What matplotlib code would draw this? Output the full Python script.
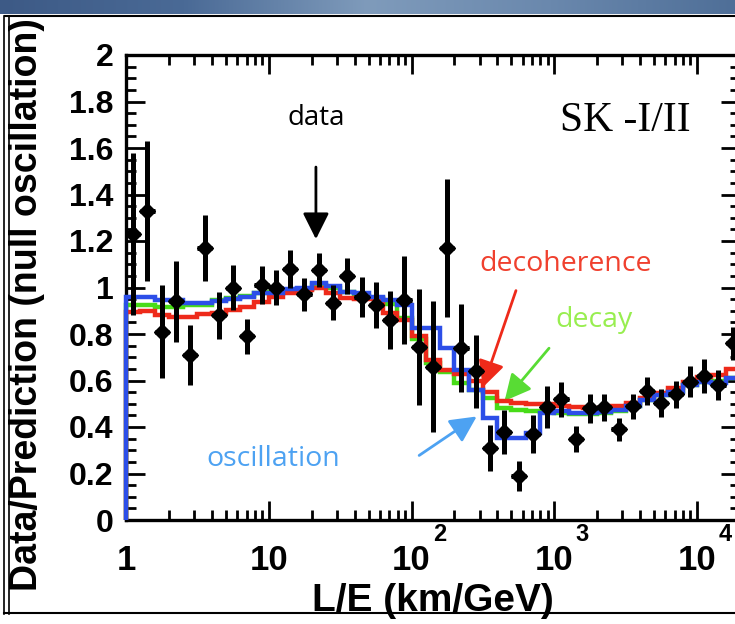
import numpy as np
import matplotlib
matplotlib.use('Agg')
import matplotlib.pyplot as plt
from matplotlib.colors import LinearSegmentedColormap
from matplotlib.ticker import MultipleLocator, LogLocator, FixedLocator, FixedFormatter, NullFormatter

# log10(L/E) bin edges of the histogram
log_edges = [0.0, 0.1, 0.2, 0.3, 0.4, 0.5, 0.6, 0.7, 0.8, 0.9, 1.0,
             1.1, 1.2, 1.3, 1.4, 1.5, 1.6, 1.7, 1.8, 1.9, 2.0,
             2.1, 2.2, 2.3, 2.4, 2.5, 2.6, 2.7, 2.8, 2.9, 3.0,
             3.1, 3.2, 3.3, 3.4, 3.5, 3.6, 3.7, 3.8, 3.9, 4.0,
             4.1, 4.2, 4.3]

# data / null-oscillation prediction with errors
data_ratio = [1.23, 1.33, 0.81, 0.94, 0.71, 1.17, 0.88, 1.00, 0.79, 1.01,
              1.00, 1.08, 0.97, 1.075, 0.935, 1.05, 0.96, 0.925, 0.86, 0.945,
              0.745, 0.66, 1.17, 0.74, 0.64, 0.31, 0.38, 0.19, 0.37, 0.485,
              0.52, 0.35, 0.48, 0.485, 0.39, 0.49, 0.555, 0.505, 0.54, 0.595,
              0.62, 0.58, 0.76]
data_err = [0.35, 0.30, 0.20, 0.175, 0.13, 0.14, 0.10, 0.097, 0.075, 0.083,
            0.075, 0.08, 0.07, 0.073, 0.074, 0.077, 0.086, 0.10, 0.125, 0.19,
            0.25, 0.28, 0.295, 0.19, 0.157, 0.10, 0.095, 0.065, 0.08, 0.09,
            0.075, 0.056, 0.064, 0.059, 0.05, 0.054, 0.06, 0.06, 0.06, 0.066,
            0.072, 0.065, 0.072]

# model predictions per bin
oscillation = [0.96, 0.96, 0.945, 0.945, 0.935, 0.935, 0.94, 0.95, 0.96, 0.975,
               0.975, 0.995, 1.0, 1.02, 1.005, 0.982, 0.975, 0.96, 0.946, 0.925,
               0.825, 0.825, 0.738, 0.645, 0.56, 0.437, 0.351, 0.351, 0.373, 0.459,
               0.47, 0.46, 0.462, 0.466, 0.475, 0.49, 0.516, 0.538, 0.552, 0.58,
               0.595, 0.59, 0.609]
decoherence = [0.895, 0.90, 0.88, 0.875, 0.875, 0.885, 0.889, 0.903, 0.917, 0.939,
               0.961, 0.975, 0.989, 1.0, 0.975, 0.953, 0.95, 0.95, 0.889, 0.86,
               0.79, 0.69, 0.645, 0.63, 0.60, 0.55, 0.51, 0.505, 0.50, 0.50,
               0.49, 0.485, 0.48, 0.48, 0.49, 0.505, 0.525, 0.545, 0.566, 0.595,
               0.616, 0.624, 0.65]
decay = [0.925, 0.925, 0.915, 0.915, 0.925, 0.925, 0.945, 0.955, 0.965, 0.975,
         0.98, 0.99, 0.995, 1.01, 1.0, 0.98, 0.965, 0.955, 0.93, 0.87,
         0.78, 0.675, 0.635, 0.59, 0.56, 0.525, 0.48, 0.475, 0.47, 0.465,
         0.46, 0.455, 0.455, 0.46, 0.47, 0.49, 0.515, 0.537, 0.555, 0.58,
         0.595, 0.60, 0.61]

ytick_vals = [0, 0.2, 0.4, 0.6, 0.8, 1, 1.2, 1.4, 1.6, 1.8, 2]
ytick_labels = ['0', '0.2', '0.4', '0.6', '0.8', '1', '1.2', '1.4', '1.6', '1.8', '2']
xtick_vals = [1, 10, 100, 1000, 10000]
xtick_labels = ['1', '10', '10', '10', '10']
xtick_powers = ['', '', '2', '3', '4']

BLUE = '#2c4ee8'
RED = '#ee2a1a'
GREEN = '#48dc18'

plt.rcParams['font.family'] = ['Liberation Sans', 'DejaVu Sans']

W, H = 735, 624
fig = plt.figure(figsize=(W / 100, H / 100), dpi=100)

# slide banner strip and outer frame
band = fig.add_axes([0, 1 - 14 / H, 1, 14 / H])
band_cmap = LinearSegmentedColormap.from_list(
    'band', ['#3d5a86', '#4a6a96', '#7f9bbb', '#6a88ad', '#4f6f98'])
band.imshow(np.linspace(0, 1, 256)[None, :], aspect='auto', cmap=band_cmap)
band.set_axis_off()
fig.add_artist(plt.Line2D([5 / W, 1], [1 - 16 / H] * 2, color='k', lw=1.5))
fig.add_artist(plt.Line2D([4 / W] * 2, [1 - 16 / H, 1 - 614 / H], color='k', lw=1.2))
fig.add_artist(plt.Line2D([9 / W] * 2, [1 - 16 / H, 1 - 614 / H], color='k', lw=1.2))
fig.add_artist(plt.Line2D([4 / W, 1], [1 - 613 / H] * 2, color='k', lw=1.5))

ax = fig.add_axes([126 / W, 1 - 520 / H, (740 - 126) / W, (520 - 55) / H])
ax.set_xscale('log')

edges = 10 ** np.array(log_edges)
centers = np.sqrt(edges[:-1] * edges[1:])

ax.stairs(decay, edges, baseline=0, color=GREEN, lw=3.2, zorder=3, clip_on=False)
ax.stairs(decoherence, edges, baseline=0, color=RED, lw=3.2, zorder=3.1, clip_on=False)
ax.stairs(oscillation, edges, baseline=0, color=BLUE, lw=3.2, zorder=3.2, clip_on=False)

ax.errorbar(centers, data_ratio, yerr=data_err,
            xerr=[centers - edges[:-1], edges[1:] - centers],
            fmt='D', color='k', ms=8, elinewidth=3.6, capsize=0, zorder=5)

ax.set_xlim(1, 2e4)
ax.set_ylim(0, 2)

for s in ax.spines.values():
    s.set_linewidth(2.4)

ax.yaxis.set_major_locator(FixedLocator(ytick_vals))
ax.yaxis.set_major_formatter(FixedFormatter(ytick_labels))
ax.yaxis.set_minor_locator(MultipleLocator(0.05))
ax.xaxis.set_major_locator(FixedLocator(xtick_vals))
ax.xaxis.set_major_formatter(FixedFormatter(xtick_labels))
ax.xaxis.set_minor_locator(LogLocator(base=10, subs=range(2, 10), numticks=20))
ax.xaxis.set_minor_formatter(NullFormatter())

ax.tick_params(which='both', direction='in', top=True, right=True, width=2)
ax.tick_params(which='major', length=14)
ax.tick_params(which='minor', length=7)
ax.tick_params(axis='y', labelsize=23, pad=9)
ax.tick_params(axis='x', labelsize=25, pad=36)
for lab in ax.get_yticklabels():
    lab.set_fontweight('bold')
for lab in ax.get_xticklabels():
    lab.set_fontweight('bold')
    lab.set_verticalalignment('baseline')

# raised exponents beside the "10" labels
for xv, p in zip(xtick_vals, xtick_powers):
    if p:
        ax.annotate(p, xy=(xv, 0), xycoords=('data', 'axes fraction'),
                    xytext=(20, -10.5), textcoords='offset points',
                    fontsize=17, fontweight='bold', ha='center', va='center')

ax.set_xlabel('L/E (km/GeV)', fontsize=28, fontweight='bold', labelpad=4)
fig.text(27 / W, 1 - 305 / H, 'Data/Prediction (null oscillation)', rotation=90,
         fontsize=27, fontweight='bold', ha='center', va='center')

ann_font = ['Open Sans', 'DejaVu Sans']
ax.text(21.4, 1.73, 'data', fontsize=20, family=ann_font, ha='center', va='center')
ax.annotate('', xy=(21.4, 1.196), xytext=(21.4, 1.53),
            arrowprops=dict(arrowstyle='-|>,head_length=0.8,head_width=0.4',
                            mutation_scale=20, lw=2, color='k'))
ax.text(3170, 1.716, 'SK -I/II', fontsize=30, family=['Liberation Serif', 'DejaVu Serif'],
        ha='center', va='center')

ax.text(1205, 1.10, 'decoherence', fontsize=20.5, family=ann_font, color='#f0402e',
        ha='center', va='center')
ax.annotate('', xy=(311, 0.559), xytext=(547, 0.998),
            arrowprops=dict(arrowstyle='-|>,head_length=0.8,head_width=0.4',
                            mutation_scale=20, lw=2, color=RED))
ax.text(1893, 0.86, 'decay', fontsize=20.5, family=ann_font, color='#98ee50',
        ha='center', va='center')
ax.annotate('', xy=(436, 0.503), xytext=(946, 0.748),
            arrowprops=dict(arrowstyle='-|>,head_length=0.8,head_width=0.4',
                            mutation_scale=20, lw=2, color='#58dc34'))
ax.text(10.7, 0.262, 'oscillation', fontsize=20.5, family=ann_font, color='#4da2f2',
        ha='center', va='center')
ax.annotate('', xy=(297, 0.452), xytext=(109, 0.271),
            arrowprops=dict(arrowstyle='-|>,head_length=0.8,head_width=0.4',
                            mutation_scale=20, lw=2, color='#4da2f2'))

fig.savefig('out.png', dpi=100)
